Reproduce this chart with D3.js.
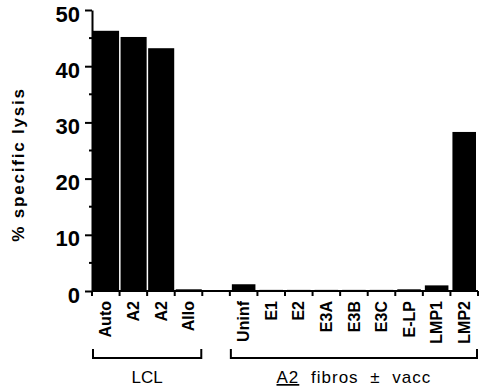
<!DOCTYPE html>
<html>
<head>
<meta charset="utf-8">
<script src="https://cdn.jsdelivr.net/npm/d3@7"></script>
<style>
  html, body { margin: 0; padding: 0; background: #fff; }
  svg { display: block; font-family: "Liberation Sans", Arial, Helvetica, sans-serif; }
</style>
</head>
<body>
<svg id="chart" width="480" height="391"></svg>
<script>
// data
const lclLabels   = ['Auto', 'A2', 'A2', 'Allo']
const lclValues   = [46.3, 45.2, 43.2, 0.3]
const fibroLabels = ['Uninf', 'E1', 'E2', 'E3A', 'E3B', 'E3C', 'E-LP', 'LMP1', 'LMP2']
const fibroValues = [1.2, 0.2, 0.2, 0.2, 0.2, 0.2, 0.3, 1.0, 28.3]
const yTicks      = [0, 10, 20, 30, 40, 50]
const yMinorTicks = [5, 15, 25, 35, 45]

const W = 480, H = 391
const margin = { top: 10, right: 2, bottom: 100, left: 92 }

// one row per bar, plus an empty slot between the two groups
const rows = [
  ...lclLabels.map((l, i) => ({ key: 'lcl' + i, label: l, value: lclValues[i], group: 'lcl' })),
  { key: 'gap', label: '', value: null, group: null },
  ...fibroLabels.map((l, i) => ({ key: 'fib' + i, label: l, value: fibroValues[i], group: 'fib' })),
]

const svg = d3.select('#chart')

const x = d3.scaleBand()
  .domain(rows.map(d => d.key))
  .range([margin.left, W - margin.right])
  .padding(0)

const y = d3.scaleLinear()
  .domain([0, 50])
  .range([H - margin.bottom, margin.top])

const bw = x.bandwidth()

// bars
svg.append('g')
  .selectAll('rect')
  .data(rows.filter(d => d.value !== null))
  .join('rect')
  .attr('x', d => x(d.key) + (d.group === 'lcl' ? 1 : 2))
  .attr('width', d => bw - (d.group === 'lcl' ? 1.5 : 4))
  .attr('y', d => y(d.value))
  .attr('height', d => y(0) - y(d.value))
  .attr('fill', '#000')

// y axis
const yAxis = svg.append('g')
  .attr('transform', `translate(${margin.left},0)`)
  .call(d3.axisLeft(y).tickValues(yTicks).tickSize(7).tickSizeOuter(0).tickPadding(5))
yAxis.select('.domain').attr('stroke-width', 2)
yAxis.selectAll('.tick line').attr('stroke-width', 2)
yAxis.selectAll('.tick text')
  .attr('font-size', 22).attr('font-weight', 'bold').attr('fill', '#000')
  .attr('font-family', '"Liberation Sans", Arial, sans-serif')
  .attr('dy', '0.5em')

svg.append('g')
  .selectAll('line')
  .data(yMinorTicks)
  .join('line')
  .attr('x1', margin.left - 3).attr('x2', margin.left)
  .attr('y1', d => y(d)).attr('y2', d => y(d))
  .attr('stroke', '#000').attr('stroke-width', 2)

// x baseline
svg.append('line')
  .attr('x1', margin.left).attr('x2', W - margin.right)
  .attr('y1', y(0)).attr('y2', y(0))
  .attr('stroke', '#000').attr('stroke-width', 2)

// x ticks at bar boundaries, none across the gap
const groupEdges = g => {
  const ks = rows.filter(d => d.group === g)
  return [...ks.map(d => x(d.key)), x(ks[ks.length - 1].key) + bw]
}
const xTickPos = [...groupEdges('lcl'), ...groupEdges('fib')]
svg.append('g')
  .selectAll('line')
  .data(xTickPos)
  .join('line')
  .attr('x1', d => d).attr('x2', d => d)
  .attr('y1', y(0)).attr('y2', y(0) + 5)
  .attr('stroke', '#000').attr('stroke-width', 2)

// rotated category labels
svg.append('g')
  .selectAll('text')
  .data(rows.filter(d => d.label))
  .join('text')
  .attr('transform', d => `translate(${x(d.key) + bw / 2},${y(0) + 10}) rotate(-90)`)
  .attr('dy', '0.35em')
  .attr('text-anchor', 'end')
  .attr('font-size', 16)
  .attr('font-weight', 'bold')
  .text(d => d.label)

// group brackets
const bracketY = 358
function bracket(g) {
  const e = groupEdges(g)
  const x0 = e[0] + 1, x1 = e[e.length - 1] - 1
  svg.append('path')
    .attr('d', `M${x0},${bracketY - 9}V${bracketY}H${x1}V${bracketY - 9}`)
    .attr('fill', 'none').attr('stroke', '#000').attr('stroke-width', 2)
  const t = svg.append('text')
    .attr('x', (x0 + x1) / 2).attr('y', 383)
    .attr('text-anchor', 'middle')
    .attr('font-size', 17)
  return t
}

bracket('lcl').text('LCL')

const fb = bracket('fib')
fb.attr('letter-spacing', 1).attr('word-spacing', 6)
fb.append('tspan').attr('text-decoration', 'underline').text('A2')
fb.append('tspan').text(' fibros ± vacc')

// y axis title
svg.append('text')
  .attr('transform', `translate(24,${(margin.top + y(0)) / 2 + 14}) rotate(-90)`)
  .attr('text-anchor', 'middle')
  .attr('font-size', 17)
  .attr('font-weight', 'bold')
  .attr('letter-spacing', 1.8)
  .text('% specific lysis')
</script>
</body>
</html>
